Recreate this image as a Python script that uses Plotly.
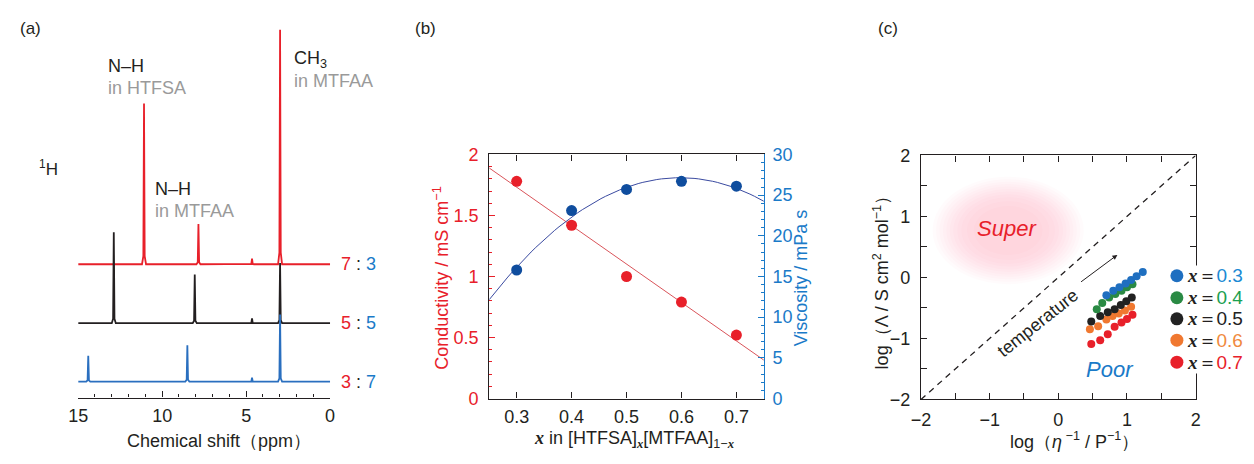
import numpy as np
import plotly.graph_objects as go

W, H = 1254, 464
def px(x): return x / W
def py(y): return 1 - y / H

FONT = "Liberation Sans, Arial, sans-serif"
SERIF = "Liberation Serif, DejaVu Serif, serif"
DARK = "#231f20"
RED = "#e8202a"
BLUE = "#1a7ac8"
GRAY = "#9a9a9a"

# ---------------- (a) 1H NMR ----------------
ratio_labels = [("7", "3"), ("5", "5"), ("3", "7")]
red_peaks_ppm = [11.08, 7.84, 4.65, 2.98]
red_peaks_h = [168, 42, 6, 245]
black_peaks_ppm = [12.88, 8.06, 4.65, 2.98]
black_peaks_h = [95, 51, 5, 63]
blue_peaks_ppm = [14.40, 8.50, 4.65, 2.98]
blue_peaks_h = [27, 38, 4, 70]
ppm_start, ppm_end = 15.0, 0.0

# ---------------- (b) conductivity / viscosity ----------------
x_frac = [0.3, 0.4, 0.5, 0.6, 0.7]
conductivity = [1.78, 1.42, 1.00, 0.79, 0.52]
viscosity = [15.8, 23.1, 25.7, 26.7, 26.1]

# ---------------- (c) Walden plot ----------------
walden_labels = ["0.3", "0.4", "0.5", "0.6", "0.7"]
w03_x = [0.70, 0.80, 0.89, 0.98, 1.06, 1.14, 1.23]
w03_y = [-0.29, -0.22, -0.16, -0.10, -0.04, 0.02, 0.09]
w04_x = [0.56, 0.64, 0.74, 0.83, 0.92, 1.00, 1.08]
w04_y = [-0.52, -0.42, -0.33, -0.27, -0.22, -0.16, -0.11]
w05_x = [0.48, 0.61, 0.72, 0.82, 0.91, 0.99, 1.07]
w05_y = [-0.72, -0.63, -0.57, -0.52, -0.45, -0.39, -0.33]
w06_x = [0.46, 0.58, 0.70, 0.79, 0.88, 0.97, 1.06]
w06_y = [-0.85, -0.80, -0.69, -0.63, -0.59, -0.54, -0.48]
w07_x = [0.48, 0.61, 0.72, 0.82, 0.92, 1.00, 1.08]
w07_y = [-1.09, -1.03, -0.93, -0.81, -0.74, -0.68, -0.61]
ideal_line = [-2, 2]

fig = go.Figure()

# --- (a) spectra
def spectrum(ppms, hs):
    xs = [ppm_start]
    ys = [0]
    for p, h in sorted(zip(ppms, hs), key=lambda t: -t[0]):
        xs += [p + 0.12, p + 0.04, p, p - 0.04, p - 0.12]
        ys += [0, 0.05 * h, h, 0.05 * h, 0]
    xs.append(ppm_end)
    ys.append(0)
    return xs, ys

offsets = [139.3, 77.7, 16.7]
spec_colors = [RED, DARK, "#2a6fbf"]
for (pp, hh), off, col in zip(
        [(red_peaks_ppm, red_peaks_h), (black_peaks_ppm, black_peaks_h), (blue_peaks_ppm, blue_peaks_h)],
        offsets, spec_colors):
    xs, ys = spectrum(pp, hh)
    fig.add_trace(go.Scatter(x=xs, y=[v + off for v in ys], mode="lines",
                             line=dict(color=col, width=1.8), xaxis="x", yaxis="y",
                             showlegend=False, hoverinfo="skip"))

# --- (b)
xa = np.array(x_frac)
xfit = np.linspace(0.25, 0.75, 60)
c_fit = np.polyval(np.polyfit(xa, conductivity, 1), xfit)
v_fit = np.polyval(np.polyfit(xa, viscosity, 2), xfit)
fig.add_trace(go.Scatter(x=xfit, y=c_fit, mode="lines", line=dict(color="#d9545a", width=1),
                         xaxis="x2", yaxis="y2", showlegend=False, hoverinfo="skip"))
fig.add_trace(go.Scatter(x=xfit, y=v_fit, mode="lines", line=dict(color="#3a4aa0", width=1),
                         xaxis="x2", yaxis="y3", showlegend=False, hoverinfo="skip"))
fig.add_trace(go.Scatter(x=x_frac, y=conductivity, mode="markers",
                         marker=dict(color=RED, size=11), xaxis="x2", yaxis="y2", showlegend=False))
fig.add_trace(go.Scatter(x=x_frac, y=viscosity, mode="markers",
                         marker=dict(color="#0f4d9e", size=11), xaxis="x2", yaxis="y3", showlegend=False))

# --- (c)
fig.add_trace(go.Scatter(x=ideal_line, y=ideal_line, mode="lines",
                         line=dict(color=DARK, width=1.3, dash="6px,5px"),
                         xaxis="x4", yaxis="y4", showlegend=False, hoverinfo="skip"))
walden_colors = ["#1f6fc0", "#2a8a44", "#222222", "#f07830", "#e8202a"]
label_colors = ["#1a8ad4", "#1aa050", "#222222", "#f08a40", "#e8202a"]
walden_sets = [(w03_x, w03_y), (w04_x, w04_y), (w05_x, w05_y), (w06_x, w06_y), (w07_x, w07_y)]
for (wx, wy), col in zip(walden_sets[::-1], walden_colors[::-1]):
    fig.add_trace(go.Scatter(x=wx, y=wy, mode="markers", marker=dict(color=col, size=8),
                             xaxis="x4", yaxis="y4", showlegend=False))

tickfont = dict(family=FONT, size=18, color=DARK)

shapes = []
# Super region: soft pink blob
for s in [1.10, 1.05, 1.0, 0.95, 0.90, 0.85, 0.80, 0.74, 0.68, 0.60, 0.50]:
    rx, ry = 1.0 * s, 0.80 * s
    shapes.append(dict(type="circle", xref="x4", yref="y4",
                       x0=-0.73 - rx, x1=-0.73 + rx, y0=0.77 - ry, y1=0.77 + ry,
                       fillcolor="rgba(240,130,165,0.03)", line=dict(width=0), layer="below"))
# legend background
shapes.append(dict(type="rect", xref="paper", yref="paper",
                   x0=px(1170), x1=px(1254), y0=py(380), y1=py(267),
                   fillcolor="white", line=dict(width=0), layer="above"))
leg_y = [277.7, 300.7, 322.7, 345.0, 368.0]
for yy, col in zip(leg_y, walden_colors):
    shapes.append(dict(type="circle", xref="paper", yref="paper",
                       xsizemode="pixel", ysizemode="pixel",
                       xanchor=px(1181), yanchor=py(yy),
                       x0=-6.5, x1=6.5, y0=-6.5, y1=6.5,
                       fillcolor=col, line=dict(width=0), layer="above"))

ann = []
def A(text, x, y, size=18, color=DARK, xanchor="center", yanchor="middle", angle=0, **kw):
    d = dict(text=text, x=x, y=y, xref="paper", yref="paper", showarrow=False,
             font=dict(family=FONT, size=size, color=color), xanchor=xanchor,
             yanchor=yanchor, textangle=angle)
    d.update(kw)
    ann.append(d)

def ix(t="x"):
    return f"<span style='font-family:{SERIF}'><i><b>{t}</b></i></span>"

# panel labels
A("(a)", px(21), py(19), size=17)
A("(b)", px(421), py(19), size=17)
A("(c)", px(889), py(19), size=17)

# (a) annotations
A("N–H", px(97), py(59), xanchor="left")
A("in HTFSA", px(97), py(82), color=GRAY, xanchor="left")
A("N–H", px(145), py(187), xanchor="left")
A("in MTFAA", px(145), py(210), color=GRAY, xanchor="left")
A("CH<sub>3</sub>", px(285), py(52), xanchor="left")
A("in MTFAA", px(285), py(74), color=GRAY, xanchor="left")
A("<sup>1</sup>H", px(39), py(165), size=17)
for (a_, b_), yy in zip(ratio_labels, [265.7, 327.3, 388.3]):
    A(f"<span style='color:{RED}'>{a_}</span> : <span style='color:{BLUE}'>{b_}</span>",
      px(333), py(yy), xanchor="left")
A("Chemical shift（ppm）", px(212), py(450))

# (b) titles
A("Conductivity / mS cm<sup>−1</sup>", px(437), py(280), color=RED, angle=-90)
A("Viscosity / mPa s", px(801), py(280), color=BLUE, angle=-90)
A(f"{ix()} in [HTFSA]<sub>{ix()}</sub>[MTFAA]<sub>1−{ix()}</sub>", px(632), py(448.5))

# (c) titles and labels
A("log（Λ / S cm<sup>2</sup> mol<sup>−1</sup>）", px(882), py(280), angle=-90)
A("log（<i>η</i><sup> −1</sup> / P<sup>−1</sup>）", px(1077), py(450))
A("<i>Super</i>", -0.75, 0.81, size=22, color=RED, xref="x4", yref="y4")
A("<i>Poor</i>", 0.75, -1.51, size=22, color=BLUE, xref="x4", yref="y4")
A("temperature", -0.30, -0.74, size=18, angle=-38.5, xref="x4", yref="y4")
ann.append(dict(x=0.86, y=0.37, ax=0.31, ay=-0.09, xref="x4", yref="y4", axref="x4", ayref="y4",
                text="", showarrow=True, arrowhead=2, arrowsize=1, arrowwidth=1, arrowcolor=DARK))
for yy, lab, col in zip(leg_y, walden_labels, label_colors):
    A(f"{ix()}＝<span style='color:{col}'>{lab}</span>", px(1189), py(yy), size=19, xanchor="left")

axis_common = dict(showgrid=False, zeroline=False, showline=True, linecolor=DARK, linewidth=1.2,
                   ticks="inside", tickcolor=DARK, tickfont=tickfont)

fig.update_layout(
    width=W, height=H, margin=dict(l=0, r=0, t=0, b=0), autosize=False,
    paper_bgcolor="white", plot_bgcolor="rgba(0,0,0,0)",
    font=dict(family=FONT, color=DARK, size=18),
    showlegend=False, hovermode=False,
    xaxis=dict(domain=[px(69), px(324)], range=[15, 0], anchor="y",
               tickvals=[15, 10, 5, 0], ticklen=6, ticklabelstandoff=2,
               minor=dict(ticks="inside", dtick=1, tick0=0, ticklen=3, tickcolor=DARK),
               **axis_common),
    yaxis=dict(domain=[py(405), py(15)], range=[0, 390], visible=False, anchor="x"),
    xaxis2=dict(domain=[px(485), px(763)], range=[0.25, 0.75], anchor="y2",
                tickvals=x_frac, ticklen=6, mirror="ticks", ticklabelstandoff=2,
                **axis_common),
    yaxis2=dict(domain=[py(406), py(151)], range=[0, 2], anchor="x2",
                tickvals=[0, 0.5, 1, 1.5, 2], ticktext=["0", "0.5", "1", "1.5", "2"],
                ticklen=6, ticklabelstandoff=6,
                minor=dict(ticks="inside", dtick=0.1, tick0=0, ticklen=3, tickcolor=RED),
                **{**axis_common, "tickcolor": RED, "tickfont": dict(family=FONT, size=18, color=RED)}),
    yaxis3=dict(range=[0, 30], anchor="x2", overlaying="y2", side="right",
                tickvals=[0, 5, 10, 15, 20, 25, 30], ticklen=6, ticklabelstandoff=4,
                minor=dict(ticks="inside", dtick=1, tick0=0, ticklen=3, tickcolor=BLUE),
                **{**axis_common, "linecolor": BLUE, "tickcolor": BLUE,
                   "tickfont": dict(family=FONT, size=18, color=BLUE)}),
    xaxis4=dict(domain=[px(922), px(1200)], range=[-2, 2], anchor="y4",
                tickvals=[-2, -1, 0, 1, 2], ticklen=6, mirror="ticks", ticklabelstandoff=4,
                minor=dict(ticks="inside", dtick=0.5, tick0=0, ticklen=6, tickcolor=DARK),
                **axis_common),
    yaxis4=dict(domain=[py(407), py(152)], range=[-2, 2], anchor="x4",
                tickvals=[-2, -1, 0, 1, 2], ticklen=6, mirror="ticks", ticklabelstandoff=6,
                minor=dict(ticks="inside", dtick=0.5, tick0=0, ticklen=6, tickcolor=DARK),
                **axis_common),
    shapes=shapes, annotations=ann,
)

fig.write_html("out.html", config={"displayModeBar": False})
